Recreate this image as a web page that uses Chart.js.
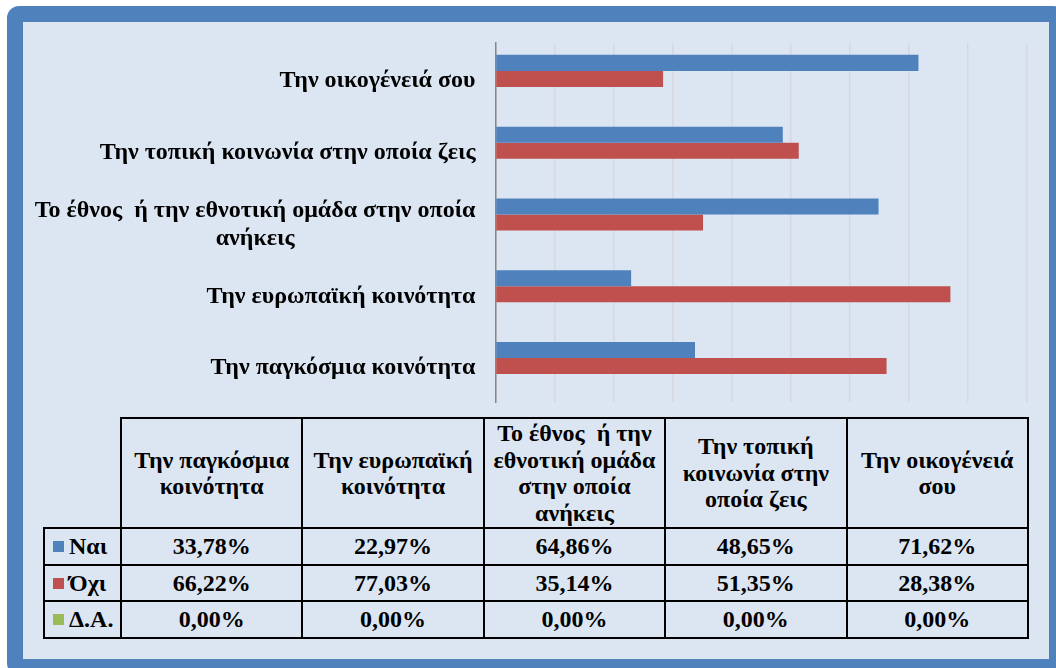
<!DOCTYPE html>
<html lang="el">
<head>
<meta charset="utf-8">
<title>Αίσθημα του ανήκειν</title>
<script src="https://cdn.jsdelivr.net/npm/chart.js@4/dist/chart.umd.min.js"></script>
<style>
    html, body { margin: 0; padding: 0; background: #fff; overflow: hidden; }
    body { width: 1056px; height: 668px; position: relative; }
    #frame {
        position: absolute; left: 7px; top: 6px;
        width: 1026px; height: 637px;
        border: 16px solid #4f81bd; border-radius: 12px;
        background: #dce6f2;
    }
    #chartBox { position: absolute; left: 23px; top: 22px; width: 1026px; height: 393px; }
    #dataTable {
        position: absolute; left: 43px; top: 417px;
        border-collapse: collapse; table-layout: fixed;
        font: bold 24px "Liberation Serif", "Times New Roman", serif;
        color: #000;
    }
    #dataTable td, #dataTable th {
        border: 2px solid #000; text-align: center; padding: 0; overflow: hidden;
    }
    #dataTable th {
        line-height: 26.5px; height: 108px; padding: 0 5px;
        font-weight: bold; white-space: pre-wrap;
    }
    #dataTable td { height: 34.5px; line-height: 34px; }
    #dataTable th.blank { border: none; }
    #dataTable td.key { text-align: left; padding-left: 8px; white-space: nowrap; }
    .swatch { display: inline-block; width: 11px; height: 11px; margin-right: 5px; vertical-align: 2px; }
</style>
</head>
<body>
<div id="frame"></div>
<div id="chartBox"><canvas id="belongChart"></canvas></div>
<table id="dataTable"></table>

<script>
// --- Data ---
const categories = [
    'Την παγκόσμια κοινότητα',
    'Την ευρωπαϊκή κοινότητα',
    'Το έθνος  ή την εθνοτική ομάδα στην οποία ανήκεις',
    'Την τοπική κοινωνία στην οποία ζεις',
    'Την οικογένειά σου'
];
const seriesNames = ['Ναι', 'Όχι', 'Δ.Α.'];
const yesValues = [33.78, 22.97, 64.86, 48.65, 71.62];
const noValues = [66.22, 77.03, 35.14, 51.35, 28.38];
const naValues = [0, 0, 0, 0, 0];
const seriesColors = ['#4f81bd', '#c0504d', '#9bbb59'];

const LABEL_FONT = 'bold 24px "Liberation Serif", "Times New Roman", serif';

// --- Category labels: right aligned, wrapped lines centred on each other ---
const categoryLabels = {
    id: 'categoryLabels',
    afterDraw(chart) {
        const ctx = chart.ctx;
        const yScale = chart.scales.y;
        const right = chart.chartArea.left - 20;
        const maxWidth = yScale.width - 20;
        ctx.save();
        ctx.font = LABEL_FONT;
        ctx.fillStyle = '#000';
        ctx.textAlign = 'center';
        ctx.textBaseline = 'middle';
        chart.data.labels.forEach((label, i) => {
            const lines = [];
            let line = '';
            label.split(' ').forEach(word => {
                const test = line === '' ? word : line + ' ' + word;
                if (line !== '' && ctx.measureText(test).width > maxWidth) {
                    lines.push(line);
                    line = word;
                } else {
                    line = test;
                }
            });
            lines.push(line);
            const widest = Math.max(...lines.map(l => ctx.measureText(l).width));
            const cx = right - widest / 2;
            const cy = yScale.getPixelForValue(i) + 2;
            lines.forEach((l, j) => {
                ctx.fillText(l, cx, cy + (j - (lines.length - 1) / 2) * 28);
            });
        });
        ctx.restore();
    }
};

// --- Bar chart ---
const belongCtx = document.getElementById('belongChart').getContext('2d');
const belongChart = new Chart(belongCtx, {
    type: 'bar',
    data: {
        labels: categories,
        datasets: [yesValues, noValues, naValues].map((values, i) => ({
            label: seriesNames[i],
            data: values,
            backgroundColor: seriesColors[i],
            borderWidth: 0
        }))
    },
    options: {
        indexAxis: 'y',
        responsive: true,
        maintainAspectRatio: false,
        animation: false,
        layout: { padding: { top: 21, right: 22, bottom: 13, left: 0 } },
        datasets: { bar: { categoryPercentage: 0.67, barPercentage: 1 } },
        plugins: {
            legend: { display: false },
            tooltip: { enabled: false }
        },
        scales: {
            x: {
                min: 0,
                max: 90,
                ticks: { display: false, stepSize: 10 },
                grid: { color: '#d5d8de', lineWidth: 1.5, drawTicks: false },
                border: { display: false }
            },
            y: {
                reverse: true,
                z: 1,
                ticks: { display: false },
                grid: { display: false, drawTicks: false },
                border: { color: '#868686', width: 1.5 },
                afterFit: function(scale) {
                    scale.width = 472.5;
                }
            }
        }
    },
    plugins: [categoryLabels]
});

// --- Data table under the chart ---
function formatPercent(v) {
    return v.toFixed(2).replace('.', ',') + '%';
}

const table = document.getElementById('dataTable');
const colGroup = document.createElement('colgroup');
[77].concat(categories.map(() => 181.4)).forEach(w => {
    const col = document.createElement('col');
    col.style.width = w + 'px';
    colGroup.appendChild(col);
});
table.appendChild(colGroup);

const headRow = document.createElement('tr');
const blank = document.createElement('th');
blank.className = 'blank';
headRow.appendChild(blank);
categories.forEach(name => {
    const th = document.createElement('th');
    th.textContent = name;
    headRow.appendChild(th);
});
table.appendChild(headRow);

[yesValues, noValues, naValues].forEach((values, i) => {
    const tr = document.createElement('tr');
    const key = document.createElement('td');
    key.className = 'key';
    const swatch = document.createElement('span');
    swatch.className = 'swatch';
    swatch.style.background = seriesColors[i];
    key.appendChild(swatch);
    key.appendChild(document.createTextNode(seriesNames[i]));
    tr.appendChild(key);
    values.forEach(v => {
        const td = document.createElement('td');
        td.textContent = formatPercent(v);
        tr.appendChild(td);
    });
    table.appendChild(tr);
});
</script>
</body>
</html>
